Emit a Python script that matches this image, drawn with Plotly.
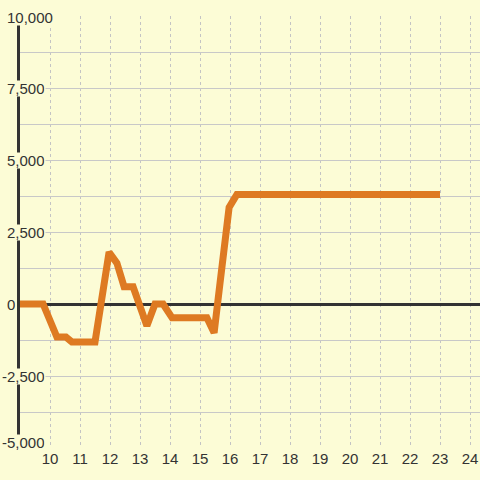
import plotly.graph_objects as go

# Data (hours vs value)
hours = [9.0, 9.77, 10.23, 10.53, 10.73, 11.5, 11.97, 12.23, 12.47, 12.77,
         13.23, 13.5, 13.77, 14.07, 15.23, 15.47, 15.67, 15.97, 16.23, 23.0]
values = [0, 0, -1150, -1150, -1320, -1320, 1800, 1420, 600, 600,
          -760, 0, 0, -480, -480, -1000, 750, 3350, 3800, 3800]

x_ticks = list(range(10, 25))
y_label_vals = [10000, 7500, 5000, 2500, 0, -2500, -5000]
y_label_text = ["10,000", "7,500", "5,000", "2,500", "0", "-2,500", "-5,000"]

BG = "#fcfcd6"
TXT = "#333333"
LINE = "#de7a22"

fig = go.Figure()
fig.add_trace(go.Scatter(
    x=hours, y=values, mode="lines",
    line=dict(color=LINE, width=7),
    hoverinfo="skip", showlegend=False,
))

annotations = []
for v, t in zip(y_label_vals, y_label_text):
    annotations.append(dict(
        x=0, xref="paper", y=v, yref="y",
        text=t, showarrow=False, xanchor="left", yanchor="middle",
        xshift=-14 if not t.startswith("-") else -19,
        yshift=6 if v == min(y_label_vals) else (-1 if v == max(y_label_vals) else 0),
        bgcolor=BG, borderpad=0, height=15,
        font=dict(family="Liberation Sans, Arial, sans-serif", size=15, color=TXT),
    ))

fig.update_layout(
    width=480, height=480,
    margin=dict(l=20, r=0, t=16, b=32),
    paper_bgcolor=BG, plot_bgcolor=BG,
    font=dict(family="Liberation Sans, Arial, sans-serif", size=15, color=TXT),
    xaxis=dict(
        range=[9, 24.333], tickvals=x_ticks, ticktext=[str(t) for t in x_ticks],
        showgrid=True, gridcolor="#c4c4c4", gridwidth=1, griddash="3px,3px",
        zeroline=False, showline=False, ticks="",
        tickfont=dict(size=15, color=TXT),
    ),
    yaxis=dict(
        range=[-5000, 10000], dtick=1250, tick0=0,
        showgrid=True, gridcolor="#c8c8c8", gridwidth=1,
        zeroline=True, zerolinecolor=TXT, zerolinewidth=3,
        showline=True, linecolor=TXT, linewidth=3,
        showticklabels=False, ticks="",
    ),
    annotations=annotations,
)

fig.write_html(
    "out.html",
    config={"displayModeBar": False, "staticPlot": True},
    post_script="document.body.style.margin='0';document.body.style.background='" + BG + "';",
)
